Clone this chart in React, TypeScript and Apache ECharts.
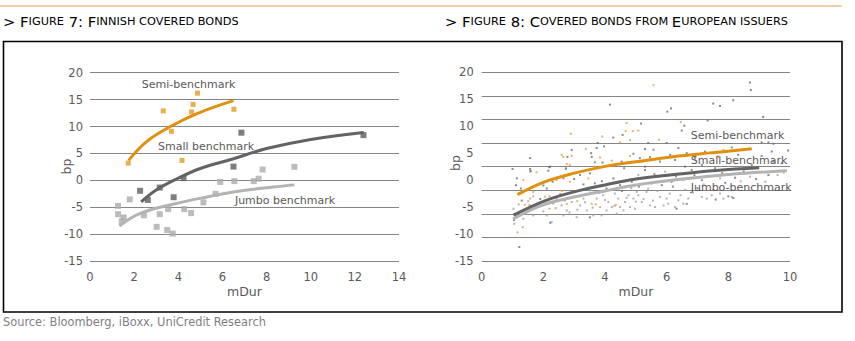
import React, { useEffect, useRef } from "react";
import * as echarts from "echarts";

// ---------- Figure 7: Finnish covered bonds ----------
const fig7XTicks = [0, 2, 4, 6, 8, 10, 12, 14];
const fig7YTicks = [-15, -10, -5, 0, 5, 10, 15, 20];
const fig7Semi = [[1.73, 3.2], [3.32, 12.9], [3.69, 9.1], [4.17, 3.7], [4.6, 12.7], [4.67, 14.1], [4.87, 16.2], [6.52, 13.2]];
const fig7Small = [[2.27, -1.95], [2.62, -3.65], [3.16, -1.35], [3.79, -3.15], [4.24, 0.4], [6.5, 2.55], [6.86, 8.85], [12.39, 8.4]];
const fig7Jumbo = [[1.27, -4.75], [1.27, -6.3], [1.44, -7.6], [1.53, -6.9], [1.8, -3.55], [2.44, -6.5], [3.02, -8.65], [3.16, -6.3], [3.5, -9.25], [3.75, -9.9], [3.54, -5.35], [4.27, -5.35], [4.58, -6.1], [5.14, -4.1], [5.69, -2.5], [5.9, -0.3], [6.54, -0.15], [7.42, -0.15], [7.64, 0.3], [7.82, 2.0], [9.26, 2.5]];
const fig7SemiTrend = [[1.75, 3.7], [2.55, 7.15], [3.6, 9.9], [4.85, 12.4], [6.5, 14.8]];
const fig7SmallTrend = [[2.32, -4.0], [3, -1.8], [4, 0.4], [5, 2.2], [6.5, 4.0], [8, 5.9], [10, 7.6], [12.4, 8.9]];
const fig7JumboTrend = [[1.33, -8.5], [2.25, -6.2], [3.75, -4.45], [5.3, -3.1], [6.8, -2.0], [8.3, -1.25], [9.26, -0.85]];

// ---------- Figure 8: Covered bonds from European issuers ----------
const fig8XTicks = [0, 2, 4, 6, 8, 10];
const fig8YTicks = [-15, -10, -5, 0, 5, 10, 15, 20];
const fig8Semi = [[5.57, 17.6], [4.7, 10.6], [4.67, 9.1], [4.9, 9.1], [2.89, 8.6], [3.91, 8.1], [4.49, 7.0], [4.81, 7.4], [3.38, 5.8], [2.59, 4.7], [2.65, 4.3], [2.92, 4.5], [3.84, 4.2], [4.22, 3.6], [4.81, 4.5], [2.76, 3.0], [2.86, 2.8], [3.67, 2.5], [6.46, 10.75], [5.75, 7.5], [5.08, 9.2], [7.84, 5.6], [8.65, 5.8], [1.78, 1.45], [1.35, 0.0], [2.43, 0.0], [2.86, -0.3], [3.46, 0.3], [1.67, -2.2], [1.57, -3.4], [3.57, -4.4], [3.84, -5.0], [1.16, -9.7], [2.76, -4.4], [2.05, -3.1], [1.4, -4.6], [2.2, -5.3], [3.1, -3.9], [4.3, -4.8], [2.6, -2.0]];
const fig8Small = [[8.7, 18.1], [8.73, 16.7], [4.16, 14.0], [8.16, 14.8], [7.51, 14.2], [7.73, 13.75], [6.14, 13.3], [6.02, 12.7], [9.13, 11.7], [7.33, 11.06], [5.17, 10.5], [6.57, 10.1], [6.49, 9.2], [4.57, 8.4], [4.27, 7.9], [3.76, 6.9], [3.97, 6.25], [3.73, 5.95], [2.92, 5.6], [1.57, 4.1], [2.78, 4.3], [3.55, 5.0], [3.57, 4.3], [3.67, 3.3], [3.92, 3.25], [4.54, 3.44], [4.92, 4.9], [2.22, 2.5], [1.0, 2.07], [1.57, 2.07], [2.73, 2.13], [4.62, 2.2], [5.4, 6.9], [6.0, 6.9], [5.3, 5.76], [5.57, 5.63], [6.38, 5.95], [6.65, 5.0], [9.08, 7.0], [9.3, 7.0], [9.46, 6.75], [9.94, 5.5], [9.41, 5.3], [9.08, 4.5], [7.24, 5.3], [8.11, 6.06], [5.13, 4.07], [5.46, 4.26], [6.11, 4.69], [5.78, 3.44], [6.27, 3.75], [6.92, 4.07], [7.67, 4.37], [8.32, 4.69], [9.46, 3.44], [9.73, 3.14], [7.14, 2.82], [5.3, 2.5], [6.6, 2.5], [8.76, 2.82], [8.0, -3.0], [8.16, -3.3], [7.59, -3.6], [6.32, -5.3], [6.65, -4.4], [3.51, -6.9], [2.22, -7.9], [1.05, -7.4], [1.22, -12.4], [1.14, 0.33], [1.11, -0.93], [1.27, -1.55], [2.65, 0.33], [3.19, 0.94], [3.67, -0.6], [3.51, 1.26], [2.11, -1.55], [2.16, 1.75], [4.05, -1.55], [4.49, -0.93], [4.87, -0.31], [4.27, 0.33], [5.51, -0.6], [5.84, -0.93], [6.16, -0.31], [7.14, 0.0], [8.22, 0.44], [9.3, 0.94], [5.3, 1.88], [6.81, 1.88], [7.57, 2.2], [2.19, 2.4], [1.59, 1.7], [2.0, -1.0], [2.3, -0.3], [3.0, 0.2], [3.3, -0.8], [3.9, -0.2], [4.4, -0.5], [5.2, 0.4], [5.6, 1.1], [6.3, 0.7], [6.9, 0.9], [7.8, 1.3], [8.5, 1.6], [1.3, -3.8], [1.9, -3.5], [2.55, -2.6], [3.0, -2.2], [3.8, -2.3], [4.55, -2.0], [5.1, -1.2], [6.2, -1.2], [7.0, -1.5], [7.9, -0.5], [8.9, 0.2]];
const fig8Jumbo = [[1.51, -3.93], [1.67, -3.0], [1.95, -4.06], [2.32, -4.36], [2.43, -3.42], [2.59, -4.68], [2.76, -5.62], [2.92, -4.06], [3.19, -4.68], [3.3, -3.42], [3.41, -5.62], [3.73, -3.42], [3.94, -2.8], [4.11, -4.06], [4.22, -5.0], [4.32, -2.49], [4.43, -3.42], [4.49, -5.0], [4.65, -4.06], [4.76, -2.8], [4.81, -5.0], [4.92, -3.42], [5.03, -2.18], [4.97, -5.3], [1.03, -5.3], [1.09, -6.55], [1.05, -8.1], [1.33, -8.74], [1.35, -7.17], [1.67, -6.55], [1.46, -5.93], [2.11, -6.55], [2.27, -7.8], [2.65, -6.55], [3.08, -6.87], [3.62, -6.55], [3.89, -6.55], [4.38, -6.23], [3.08, -3.12], [5.08, -2.8], [5.19, -4.06], [5.35, -2.18], [5.46, -4.68], [5.62, -5.0], [5.78, -3.12], [6.0, -3.42], [6.05, -4.36], [6.27, -5.0], [6.38, -3.74], [6.54, -4.36], [6.7, -3.42], [7.14, -3.12], [7.3, -3.42], [7.46, -2.8], [7.73, -2.49], [7.84, -3.42], [8.11, -3.12], [6.54, 0.0], [7.73, 0.33], [8.7, 0.63], [9.6, 0.94], [5.08, 0.94], [5.95, 1.57], [2.73, 2.2], [1.57, 1.57], [1.2, -4.5], [1.55, -4.6], [1.8, -5.0], [2.0, -5.8], [2.2, -3.0], [2.4, -5.2], [2.7, -3.8], [2.85, -6.0], [3.1, -5.5], [3.25, -2.8], [3.35, -4.1], [3.5, -1.9], [3.6, -5.1], [3.7, -4.5], [4.0, -3.7], [4.05, -5.6], [4.2, -1.8], [4.35, -4.6], [4.6, -5.6], [4.7, -3.3], [4.85, -1.5], [5.0, -4.0], [5.25, -3.5], [5.4, -1.6], [5.55, -3.8], [5.7, -2.0], [5.9, -4.7], [6.1, -2.5], [6.45, -2.8], [6.6, -1.8], [6.85, -2.3], [7.2, -0.8], [7.5, -1.8], [8.4, -0.2], [9.2, -0.3], [9.8, 1.4]];
const fig8SemiTrend = [[1.16, -2.7], [2.0, -0.4], [2.97, 1.25], [4.05, 2.6], [5.0, 3.4], [6.2, 4.35], [7.5, 5.1], [8.76, 5.8]];
const fig8SmallTrend = [[1.03, -6.5], [2.11, -3.7], [3.19, -1.9], [4.0, -0.9], [5.0, 0.2], [6.5, 1.2], [7.6, 1.8], [9.0, 2.3]];
const fig8JumboTrend = [[1.02, -7.2], [2.0, -4.6], [3.19, -2.9], [4.0, -2.0], [5.0, -0.9], [6.5, 0.2], [8.0, 1.05], [9.9, 1.75]];

const FONT = "'DejaVu Sans', Verdana, sans-serif";
const LABEL = "#595959";
const ORANGE = "#E0900F";
const DARK = "#636363";
const LIGHT = "#b3b3b3";
const GRID = "#868686";

export default function App() {
  const ref = useRef<HTMLDivElement>(null);
  useEffect(() => {
    document.body.style.margin = "0";
    const chart = echarts.init(ref.current!, null, { renderer: "svg" });
    const axisLabel = { color: LABEL, fontSize: 11.5, fontFamily: FONT };
    const trend = (data: number[][], color: string, x: number, y: number) => ({
      type: "line", data, xAxisIndex: x, yAxisIndex: y, smooth: 0.4, showSymbol: false,
      lineStyle: { color, width: 3 }, z: 3, silent: true,
    });
    const pts = (data: number[][], color: string, x: number, y: number, size: number, symbol: string) => ({
      type: "scatter", data, xAxisIndex: x, yAxisIndex: y, symbol, symbolSize: size,
      itemStyle: { color }, z: 2, silent: true,
    });
    const titleRich = {
      b: { fontSize: 14.8, fontFamily: FONT, color: "#8c8c8c" },
      s: { fontSize: 11.3, fontFamily: FONT, color: "#8c8c8c" },
    };
    chart.setOption({
      animation: false,
      grid: [
        { left: 90, top: 72.7, width: 309, height: 188.3 },
        { left: 481.7, top: 72.3, width: 308.3, height: 188.7 },
      ],
      xAxis: [
        { gridIndex: 0, type: "value", min: fig7XTicks[0], max: fig7XTicks[fig7XTicks.length - 1], interval: 2,
          axisLine: { show: false }, axisTick: { show: false }, splitLine: { show: false }, axisLabel: { ...axisLabel, margin: 10 } },
        { gridIndex: 1, type: "value", min: fig8XTicks[0], max: fig8XTicks[fig8XTicks.length - 1], interval: 2,
          axisLine: { show: false }, axisTick: { show: false }, splitLine: { show: false }, axisLabel: { ...axisLabel, margin: 10 } },
      ],
      yAxis: [
        { gridIndex: 0, type: "value", min: fig7YTicks[0], max: fig7YTicks[fig7YTicks.length - 1], interval: 5,
          axisLine: { show: false }, axisTick: { show: false },
          splitLine: { show: true, lineStyle: { color: GRID, width: 1 } }, axisLabel: { ...axisLabel, margin: 7 } },
        { gridIndex: 1, type: "value", min: fig8YTicks[0], max: fig8YTicks[fig8YTicks.length - 1], interval: 5,
          axisLine: { show: false }, axisTick: { show: false }, splitLine: { show: false }, axisLabel: { ...axisLabel, margin: 8 } },
        { gridIndex: 1, type: "value", min: 0, max: 8, interval: 1, position: "left",
          axisLine: { show: false }, axisTick: { show: false }, axisLabel: { show: false },
          splitLine: { show: true, lineStyle: { color: GRID, width: 1 } } },
      ],
      series: [
        pts(fig7Jumbo, "#ababab", 0, 0, 6, "rect"),
        pts(fig7Small, "#5e5e5e", 0, 0, 6, "rect"),
        pts(fig7Semi, "#E39A24", 0, 0, 5, "rect"),
        trend(fig7JumboTrend, LIGHT, 0, 0),
        trend(fig7SmallTrend, DARK, 0, 0),
        trend(fig7SemiTrend, ORANGE, 0, 0),
        pts(fig8Jumbo, "#a3a3a3", 1, 1, 2, "rect"),
        pts(fig8Small, "#6e6e6e", 1, 1, 2, "rect"),
        pts(fig8Semi, "#E8A040", 1, 1, 2, "rect"),
        trend(fig8JumboTrend, LIGHT, 1, 1),
        trend(fig8SmallTrend, DARK, 1, 1),
        trend(fig8SemiTrend, ORANGE, 1, 1),
      ],
      graphic: [
        { type: "line", shape: { x1: 0, y1: 6, x2: 842, y2: 6 }, style: { stroke: "#DFA24A", lineWidth: 1.2 } },
        { type: "rect", shape: { x: 3.5, y: 41.5, width: 838.5, height: 270.5 }, style: { fill: "none", stroke: "#000", lineWidth: 1.6 } },
        { type: "text", x: 3, y: 21, style: { text: "{b|> F}{s|IGURE}{b| 7: F}{s|INNISH COVERED BONDS}", rich: titleRich, verticalAlign: "middle" } },
        { type: "text", x: 445, y: 21, style: { text: "{b|> F}{s|IGURE}{b| 8: C}{s|OVERED BONDS FROM }{b|E}{s|UROPEAN ISSUERS}", rich: titleRich, verticalAlign: "middle" } },
        { type: "text", x: 3, y: 322, style: { text: "Source: Bloomberg, iBoxx, UniCredit Research", fill: "#7f7f7f", font: `11.4px ${FONT}`, verticalAlign: "middle" } },
        { type: "text", x: 244.5, y: 291, style: { text: "mDur", fill: LABEL, font: `12.5px ${FONT}`, align: "center", verticalAlign: "middle" } },
        { type: "text", x: 636, y: 291, style: { text: "mDur", fill: LABEL, font: `12.5px ${FONT}`, align: "center", verticalAlign: "middle" } },
        { type: "text", x: 66.5, y: 166.5, rotation: Math.PI / 2, style: { text: "bp", fill: LABEL, font: `12.5px ${FONT}`, align: "center", verticalAlign: "middle" } },
        { type: "text", x: 455, y: 163, rotation: Math.PI / 2, style: { text: "bp", fill: LABEL, font: `12.5px ${FONT}`, align: "center", verticalAlign: "middle" } },
        { type: "text", x: 188.5, y: 84, z: 10, style: { text: "Semi-benchmark", fill: LABEL, font: `11px ${FONT}`, align: "center", verticalAlign: "middle" } },
        { type: "text", x: 206, y: 146, z: 10, style: { text: "Small benchmark", fill: LABEL, font: `11px ${FONT}`, align: "center", verticalAlign: "middle" } },
        { type: "text", x: 285, y: 200.7, z: 10, style: { text: "Jumbo benchmark", fill: LABEL, font: `11px ${FONT}`, align: "center", verticalAlign: "middle" } },
        { type: "text", x: 690.7, y: 135, z: 10, style: { text: "Semi-benchmark", fill: LABEL, font: `11px ${FONT}`, verticalAlign: "middle" } },
        { type: "text", x: 690.7, y: 160.7, z: 10, style: { text: "Small-benchmark", fill: LABEL, font: `11px ${FONT}`, verticalAlign: "middle" } },
        { type: "text", x: 690.7, y: 187.7, z: 10, style: { text: "Jumbo-benchmark", fill: LABEL, font: `11px ${FONT}`, verticalAlign: "middle" } },
      ],
    });
    return () => chart.dispose();
  }, []);
  return <div ref={ref} style={{ position: "absolute", left: 0, top: 0, width: 855, height: 341, background: "#fff" }} />;
}
